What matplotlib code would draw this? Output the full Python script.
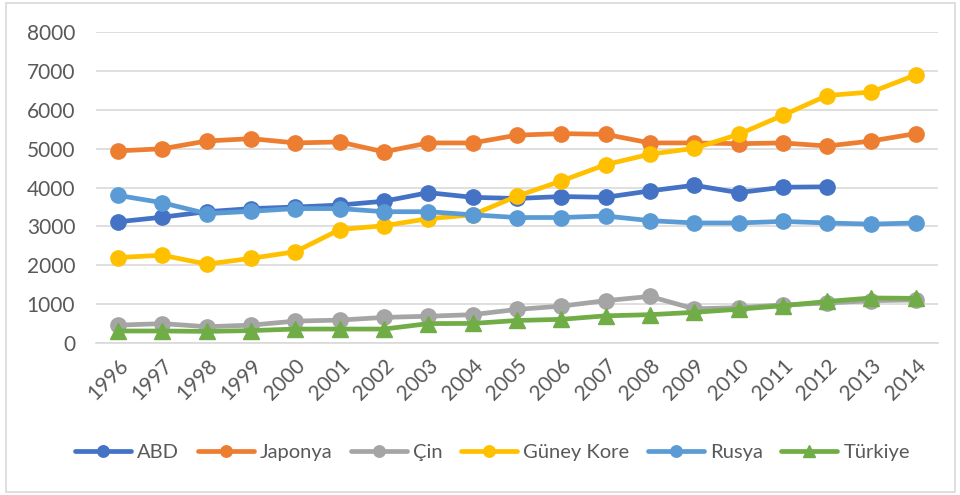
import numpy as np
import matplotlib
matplotlib.use('Agg')
import matplotlib.pyplot as plt
from matplotlib.patches import Rectangle

plt.rcParams['font.family'] = ['Lato', 'DejaVu Sans']

# Data
years = [str(y) for y in range(1996, 2015)]
abd = [3120, 3240, 3380, 3460, 3500, 3550, 3650, 3870, 3750, 3720, 3770, 3750,
       3915, 4060, 3870, 4010, 4020, None, None]
japonya = [4945, 5000, 5200, 5260, 5150, 5175, 4920, 5150, 5150, 5350, 5390, 5370,
           5150, 5150, 5130, 5150, 5070, 5200, 5390]
cin = [460, 500, 420, 460, 565, 590, 660, 690, 730, 865, 950, 1090,
       1200, 880, 910, 980, 1030, 1090, 1110]
guney_kore = [2200, 2260, 2030, 2180, 2350, 2920, 3020, 3200, 3300, 3780, 4170, 4590,
              4860, 5010, 5370, 5860, 6370, 6460, 6900]
rusya = [3800, 3610, 3330, 3390, 3460, 3460, 3380, 3380, 3300, 3230, 3230, 3270,
         3150, 3090, 3090, 3130, 3090, 3060, 3090]
turkiye = [310, 310, 300, 320, 360, 360, 360, 500, 505, 580, 610, 700,
           730, 790, 870, 960, 1070, 1160, 1150]

series = [
    ('ABD', abd, '#4472C4', 'o'),
    ('Japonya', japonya, '#ED7D31', 'o'),
    ('Çin', cin, '#A5A5A5', 'o'),
    ('Güney Kore', guney_kore, '#FFC000', 'o'),
    ('Rusya', rusya, '#5B9BD5', 'o'),
    ('Türkiye', turkiye, '#70AD47', '^'),
]

text_color = '#595959'
grid_color = '#D9D9D9'

fig = plt.figure(figsize=(9.6, 4.95), dpi=100)
ax = fig.add_axes([0.1, 0.307, 0.877, 0.628])

x = np.arange(len(years))
for name, vals, color, marker in series:
    y = np.array([np.nan if v is None else v for v in vals], dtype=float)
    ax.plot(x, y, color=color, linewidth=3.4, marker=marker,
            markersize=11 if marker == 'o' else 11.5, label=name,
            solid_capstyle='round', solid_joinstyle='round')

ax.set_xlim(-0.5, len(years) - 0.5)
ax.set_ylim(0, 8000)
ax.set_yticks(range(0, 8001, 1000))
ax.set_xticks(x)
ax.set_xticklabels(years, rotation=45, ha='right', va='top',
                   rotation_mode='anchor')
ax.tick_params(axis='both', length=0, labelsize=15, colors=text_color)
ax.tick_params(axis='y', pad=15)
ax.tick_params(axis='x', pad=9)

ax.grid(axis='y', color=grid_color, linewidth=1.2)
ax.set_axisbelow(True)
for side in ['top', 'right', 'left']:
    ax.spines[side].set_visible(False)
ax.spines['bottom'].set_color(grid_color)
ax.spines['bottom'].set_linewidth(1.2)

leg = fig.legend(loc='center', bbox_to_anchor=(0.513, 0.085), ncol=6,
                 frameon=False, fontsize=14.5, handlelength=2.8,
                 handletextpad=0.3, columnspacing=0.9, markerscale=0.75)
for t in leg.get_texts():
    t.set_color(text_color)

# Outer chart border
fig.patches.append(Rectangle((6 / 960, 3 / 495), 949 / 960, 489 / 495,
                             transform=fig.transFigure, fill=False,
                             edgecolor=grid_color, linewidth=1.2))

fig.savefig('out.png', dpi=100)
